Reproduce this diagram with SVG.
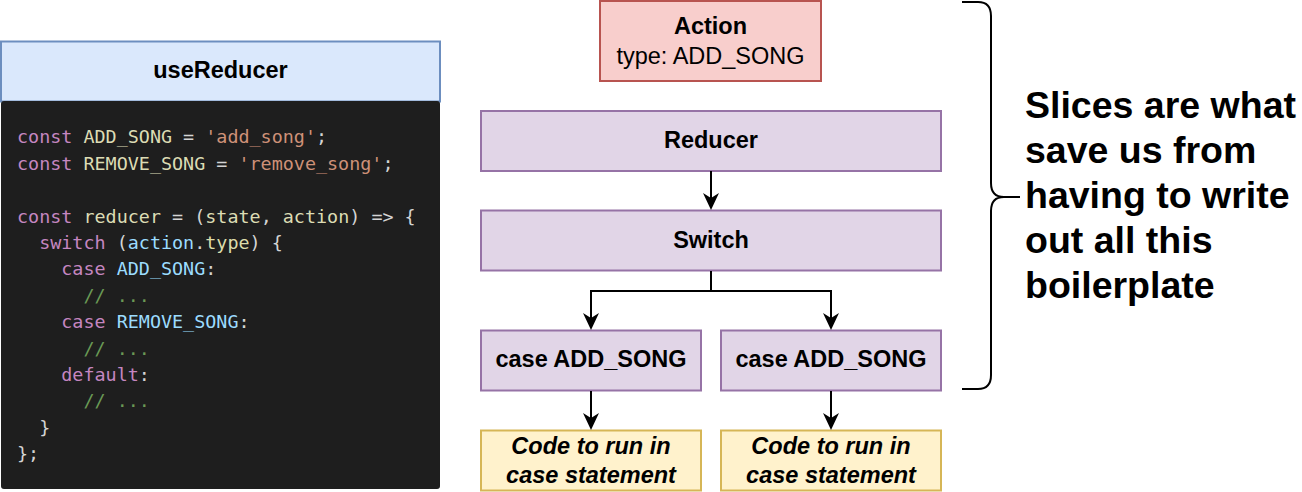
<svg xmlns="http://www.w3.org/2000/svg" width="1302" height="492" viewBox="0 0 1302 492">
<defs>
<style>
.lbl{font-family:"Liberation Sans",Arial,sans-serif;font-size:23.5px;fill:#000;text-anchor:middle}
.b{font-weight:bold}
.bi{font-weight:bold;font-style:italic}
.big{font-family:"Liberation Sans",Arial,sans-serif;font-size:37.5px;font-weight:bold;fill:#000}
.code{font-family:"DejaVu Sans Mono",monospace;font-size:18.4px;fill:#d4d4d4}
.k{fill:#c586c0}.v{fill:#dcdcb4}.s{fill:#ce9178}.p{fill:#d4d4d4}.lb{fill:#9cdcfe}.f{fill:#dcdcaa}.c{fill:#6a9955}
.purple{fill:#e1d5e7;stroke:#9673a6;stroke-width:2}
.yellow{fill:#fff2cc;stroke:#d6b656;stroke-width:2}
.conn{fill:none;stroke:#000;stroke-width:2}
</style>
<marker id="arr" viewBox="-18 -9 19 18" refX="-12" refY="0" markerWidth="19" markerHeight="18" markerUnits="userSpaceOnUse" orient="auto">
<path d="M0,0 L-17,-8 L-12,0 L-17,8 Z" fill="#000"/>
</marker>
</defs>
<rect width="1302" height="492" fill="#fff"/>

<g id="useReducer">
<rect x="1" y="41.5" width="439" height="60" fill="#dae8fc" stroke="#6c8ebf" stroke-width="2"/>
<text class="lbl b" x="220.5" y="78">useReducer</text>
</g>

<g id="code-block">
<rect x="1" y="101" width="439" height="388" rx="3" fill="#1e1e1e"/>
<text class="code" xml:space="preserve" x="17" y="143.3"><tspan class="k">const</tspan> <tspan class="v">ADD_SONG</tspan> = <tspan class="s">'add_song'</tspan>;</text>
<text class="code" xml:space="preserve" x="17" y="169.7"><tspan class="k">const</tspan> <tspan class="v">REMOVE_SONG</tspan> = <tspan class="s">'remove_song'</tspan>;</text>
<text class="code" xml:space="preserve" x="17" y="222.5"><tspan class="k">const</tspan> <tspan class="v">reducer</tspan> = (<tspan class="v">state</tspan>, <tspan class="v">action</tspan>) =&gt; {</text>
<text class="code" xml:space="preserve" x="17" y="248.9">  <tspan class="k">switch</tspan> (<tspan class="lb">action</tspan>.<tspan class="f">type</tspan>) {</text>
<text class="code" xml:space="preserve" x="17" y="275.3">    <tspan class="k">case</tspan> <tspan class="lb">ADD_SONG</tspan>:</text>
<text class="code" xml:space="preserve" x="17" y="301.7">      <tspan class="c">// ...</tspan></text>
<text class="code" xml:space="preserve" x="17" y="328.1">    <tspan class="k">case</tspan> <tspan class="lb">REMOVE_SONG</tspan>:</text>
<text class="code" xml:space="preserve" x="17" y="354.5">      <tspan class="c">// ...</tspan></text>
<text class="code" xml:space="preserve" x="17" y="380.9">    <tspan class="k">default</tspan>:</text>
<text class="code" xml:space="preserve" x="17" y="407.3">      <tspan class="c">// ...</tspan></text>
<text class="code" xml:space="preserve" x="17" y="433.7">  }</text>
<text class="code" xml:space="preserve" x="17" y="460.1">};</text>
</g>

<g id="action">
<rect x="600" y="1" width="221" height="80" fill="#f8cecc" stroke="#b85450" stroke-width="2"/>
<text class="lbl b" x="710.5" y="34">Action</text>
<text class="lbl" x="710.5" y="64">type: ADD_SONG</text>
</g>

<g id="reducer">
<rect class="purple" x="481" y="111" width="460" height="60"/>
<text class="lbl b" x="711" y="148">Reducer</text>
</g>

<g id="switch">
<rect class="purple" x="481" y="210.5" width="460" height="60"/>
<text class="lbl b" x="711" y="248">Switch</text>
</g>

<g id="case-left">
<rect class="purple" x="481" y="330.5" width="220" height="60"/>
<text class="lbl b" x="591" y="367">case ADD_SONG</text>
</g>

<g id="case-right">
<rect class="purple" x="721" y="330.5" width="220" height="60"/>
<text class="lbl b" x="831" y="367">case ADD_SONG</text>
</g>

<g id="code-left">
<rect class="yellow" x="481" y="430.5" width="220" height="60"/>
<text class="lbl bi" x="591" y="453.5">Code to run in</text>
<text class="lbl bi" x="591" y="483">case statement</text>
</g>

<g id="code-right">
<rect class="yellow" x="721" y="430.5" width="220" height="60"/>
<text class="lbl bi" x="831" y="453.5">Code to run in</text>
<text class="lbl bi" x="831" y="483">case statement</text>
</g>

<g id="note">
<path class="conn" d="M962,2 H978 Q991,2 991,16 V183 Q991,197 1004,197 H1020 M1004,197 Q991,197 991,211 V375 Q991,389 978,389 H962"/>
<text class="big" x="1025" y="118">Slices are what</text>
<text class="big" x="1025" y="163">save us from</text>
<text class="big" x="1025" y="208">having to write</text>
<text class="big" x="1025" y="253">out all this</text>
<text class="big" x="1025" y="298">boilerplate</text>
</g>

<g id="connectors">
<path class="conn" d="M711,171 V198" marker-end="url(#arr)"/>
<path class="conn" d="M711,271 V291 H591 V318" marker-end="url(#arr)"/>
<path class="conn" d="M711,291 H831 V318" marker-end="url(#arr)"/>
<path class="conn" d="M591,391 V418" marker-end="url(#arr)"/>
<path class="conn" d="M831,391 V418" marker-end="url(#arr)"/>
</g>
</svg>
